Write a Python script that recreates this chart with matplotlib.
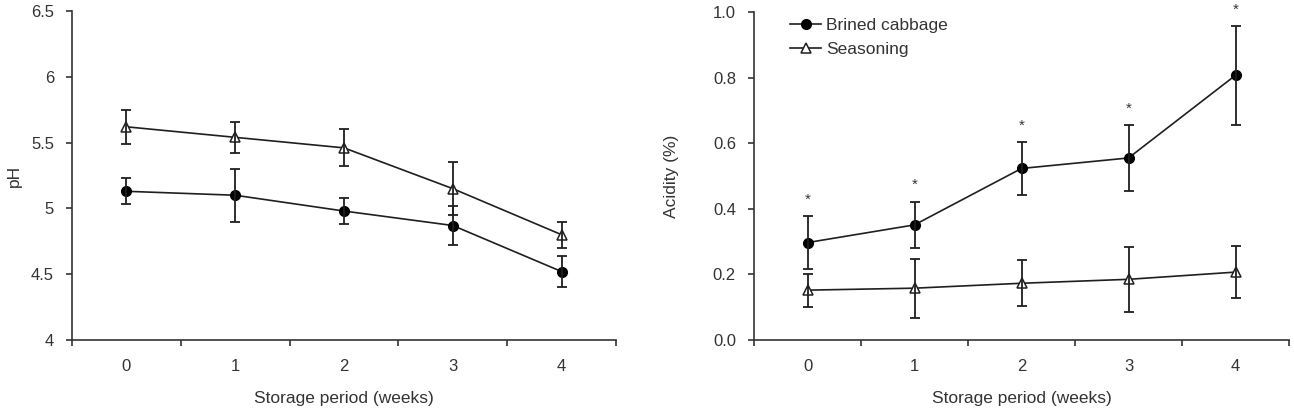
import matplotlib
matplotlib.use("Agg")
import matplotlib.pyplot as plt
import numpy as np

plt.rcParams['font.family'] = ['Liberation Sans', 'DejaVu Sans']

weeks = [0, 1, 2, 3, 4]
week_labels = ['0', '1', '2', '3', '4']

# pH
ph_cabbage = [5.13, 5.10, 4.98, 4.87, 4.52]
ph_cabbage_err = [0.10, 0.20, 0.10, 0.15, 0.12]
ph_season = [5.62, 5.54, 5.46, 5.15, 4.80]
ph_season_err = [0.13, 0.12, 0.14, 0.20, 0.10]

# Acidity (%)
ac_cabbage = [0.297, 0.351, 0.523, 0.555, 0.807]
ac_cabbage_err = [0.08, 0.07, 0.08, 0.10, 0.15]
ac_season = [0.152, 0.158, 0.173, 0.185, 0.207]
ac_season_err = [0.05, 0.09, 0.07, 0.10, 0.08]
ac_signif = ['*', '*', '*', '*', '*']

LC = '#1f1f1f'
TC = '#333333'

fig = plt.figure(figsize=(12.94, 4.08), dpi=100)
axL = fig.add_axes([72/1294, 68/408, 544/1294, 329/408])
axR = fig.add_axes([754/1294, 68/408, 535/1294, 328/408])

def style(ax):
    for s in ['top', 'right']:
        ax.spines[s].set_visible(False)
    for s in ['left', 'bottom']:
        ax.spines[s].set_color('#333333')
        ax.spines[s].set_linewidth(1.2)
    ax.set_xlim(-0.5, 4.5)
    ax.set_xticks(weeks)
    ax.set_xticklabels(week_labels)
    ax.set_xticks(np.arange(-0.5, 4.6, 1.0), minor=True)
    ax.tick_params(axis='x', which='major', length=0, pad=14, labelsize=12, labelcolor=TC)
    ax.tick_params(axis='x', which='minor', length=4, width=1.2, color='#333333', direction='out')
    ax.tick_params(axis='y', which='major', length=4, width=1.2, color='#333333', pad=9,
                   labelsize=12, labelcolor=TC, direction='out')
    ax.set_xlabel('Storage period (weeks)', fontsize=12.5, color=TC)
    ax.xaxis.set_label_coords(0.5, -0.154)

def draw(ax, y1, e1, y2, e2):
    ax.errorbar(weeks, y1, yerr=e1, fmt='none', ecolor=LC, elinewidth=1.3, capsize=3.5, capthick=1.3, zorder=4)
    ax.errorbar(weeks, y2, yerr=e2, fmt='none', ecolor=LC, elinewidth=1.3, capsize=3.5, capthick=1.3, zorder=4)
    h1, = ax.plot(weeks, y1, '-', color=LC, lw=1.2, marker='o', ms=7, mfc='black', mec='black', zorder=3,
                  label='Brined cabbage')
    h2, = ax.plot(weeks, y2, '-', color=LC, lw=1.2, marker='^', ms=7, mfc='white', mec=LC, mew=1.1, zorder=3,
                  label='Seasoning')
    return h1, h2

style(axL)
draw(axL, ph_cabbage, ph_cabbage_err, ph_season, ph_season_err)
axL.set_ylim(4, 6.5)
axL.set_yticks([4, 4.5, 5, 5.5, 6, 6.5])
axL.set_yticklabels(['4', '4.5', '5', '5.5', '6', '6.5'])
axL.set_ylabel('pH', fontsize=12.5, color=TC)
axL.yaxis.set_label_coords(-0.092, 0.5)

style(axR)
h1, h2 = draw(axR, ac_cabbage, ac_cabbage_err, ac_season, ac_season_err)
axR.set_ylim(0, 1.0)
axR.set_yticks([0, 0.2, 0.4, 0.6, 0.8, 1.0])
axR.set_yticklabels(['0.0', '0.2', '0.4', '0.6', '0.8', '1.0'])
axR.set_ylabel('Acidity (%)', fontsize=12.5, color=TC)
axR.yaxis.set_label_coords(-0.140, 0.5)

for x, y, e, s in zip(weeks, ac_cabbage, ac_cabbage_err, ac_signif):
    axR.annotate(s, xy=(x, y + e), xytext=(0, 12), textcoords='offset points',
                 ha='center', va='center', fontsize=11, color=TC, annotation_clip=False)

axR.legend(handles=[h1, h2], loc='upper left', bbox_to_anchor=((790-754)/535, 0.983),
           frameon=False, fontsize=12.5, borderpad=0, borderaxespad=0,
           handlelength=1.8, handletextpad=0.3, labelspacing=0.52, labelcolor=TC)

fig.savefig('out.png', dpi=100)
